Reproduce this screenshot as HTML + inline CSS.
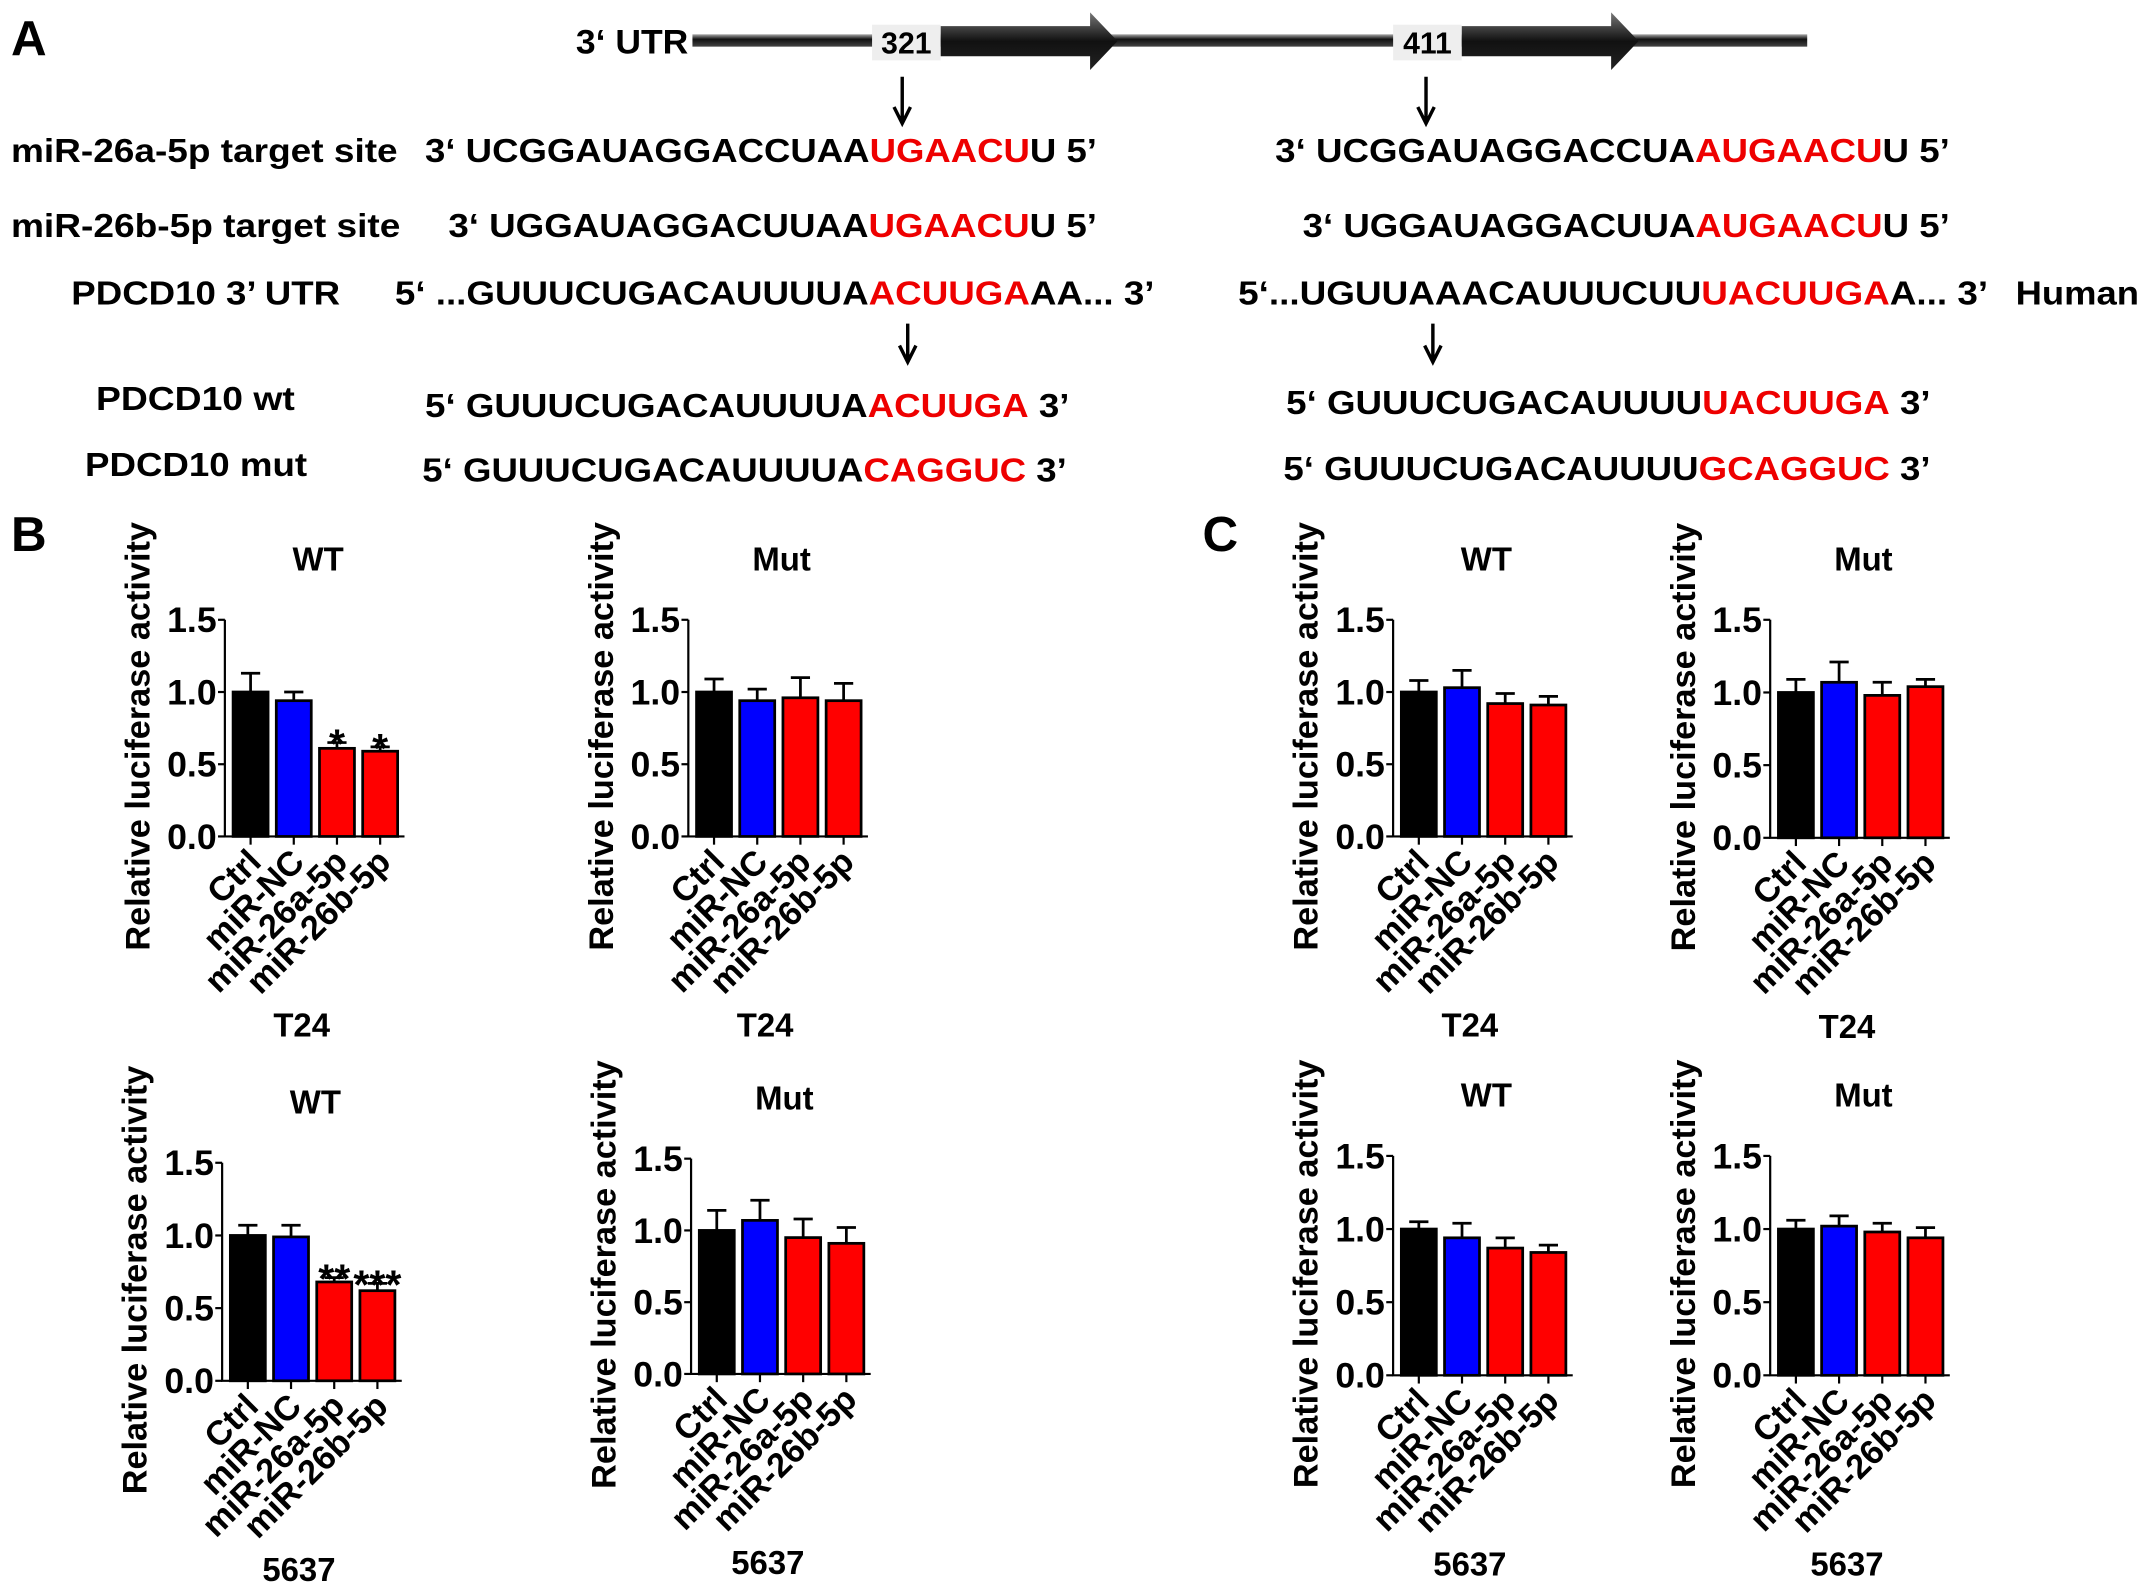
<!DOCTYPE html>
<html><head><meta charset="utf-8"><style>
html,body{margin:0;padding:0;background:#fff;}
svg{display:block;font-family:"Liberation Sans",Arial,sans-serif;font-weight:bold;}
</style></head><body>
<svg id="fig" xmlns="http://www.w3.org/2000/svg" width="2150" height="1595" viewBox="0 0 1568 1163.2">
<defs>
<linearGradient id="lg" x1="0" y1="0" x2="0" y2="1"><stop offset="0" stop-color="#aaa"/><stop offset="0.4" stop-color="#111"/><stop offset="1" stop-color="#444"/></linearGradient>
<linearGradient id="ag" x1="0" y1="0" x2="0" y2="1"><stop offset="0" stop-color="#777"/><stop offset="0.5" stop-color="#111"/><stop offset="1" stop-color="#222"/></linearGradient>
</defs>
<g>
<text x="8" y="40" font-size="36">A</text>
<text x="420" y="39" font-size="25" textLength="82" lengthAdjust="spacingAndGlyphs">3‘ UTR</text>
<rect x="505" y="25" width="813" height="9" fill="url(#lg)"/>
<g>
<path d="M686 19 H795 V9 L815 30 L795 51 V41 H686 Z" fill="url(#ag)"/>
<rect x="636" y="18" width="50" height="26" fill="#eee"/>
<text x="661" y="39" font-size="22" text-anchor="middle">321</text>
</g>
<g>
<path d="M1066 19 H1175 V9 L1195 30 L1175 51 V41 H1066 Z" fill="url(#ag)"/>
<rect x="1016" y="18" width="50" height="26" fill="#eee"/>
<text x="1041" y="39" font-size="22" text-anchor="middle">411</text>
</g>
<g stroke="#000" stroke-width="2.5" fill="none">
<path d="M658 56 V88 M652 78 L658 90 L664 78"/>
<path d="M1040 56 V88 M1034 78 L1040 90 L1046 78"/>
<path d="M662 236 V262 M656 252 L662 264 L668 252"/>
<path d="M1045 236 V262 M1039 252 L1045 264 L1051 252"/>
</g>
<g font-size="24">
<text x="8" y="118" textLength="282" lengthAdjust="spacingAndGlyphs">miR-26a-5p target site</text>
<text x="310" y="118" textLength="490" lengthAdjust="spacingAndGlyphs">3‘ UCGGAUAGGACCUAA<tspan fill="#e00">UGAACU</tspan>U 5’</text>
<text x="930" y="118" textLength="492" lengthAdjust="spacingAndGlyphs">3‘ UCGGAUAGGACCUA<tspan fill="#e00">AUGAACU</tspan>U 5’</text>
<text x="8" y="173" textLength="284" lengthAdjust="spacingAndGlyphs">miR-26b-5p target site</text>
<text x="327" y="173" textLength="473" lengthAdjust="spacingAndGlyphs">3‘ UGGAUAGGACUUAA<tspan fill="#e00">UGAACU</tspan>U 5’</text>
<text x="950" y="173" textLength="472" lengthAdjust="spacingAndGlyphs">3‘ UGGAUAGGACUUA<tspan fill="#e00">AUGAACU</tspan>U 5’</text>
<text x="52" y="222" textLength="196" lengthAdjust="spacingAndGlyphs">PDCD10 3’ UTR</text>
<text x="288" y="222" textLength="554" lengthAdjust="spacingAndGlyphs">5‘ ...GUUUCUGACAUUUUA<tspan fill="#e00">ACUUGA</tspan>AA... 3’</text>
<text x="903" y="222" textLength="547" lengthAdjust="spacingAndGlyphs">5‘...UGUUAAACAUUUCUU<tspan fill="#e00">UACUUGA</tspan>A... 3’</text>
<text x="1470" y="222" textLength="90" lengthAdjust="spacingAndGlyphs">Human</text>
<text x="70" y="299" textLength="145" lengthAdjust="spacingAndGlyphs">PDCD10 wt</text>
<text x="310" y="304" textLength="470" lengthAdjust="spacingAndGlyphs">5‘ GUUUCUGACAUUUUA<tspan fill="#e00">ACUUGA</tspan> 3’</text>
<text x="938" y="302" textLength="470" lengthAdjust="spacingAndGlyphs">5‘ GUUUCUGACAUUUU<tspan fill="#e00">UACUUGA</tspan> 3’</text>
<text x="62" y="347" textLength="162" lengthAdjust="spacingAndGlyphs">PDCD10 mut</text>
<text x="308" y="351" textLength="470" lengthAdjust="spacingAndGlyphs">5‘ GUUUCUGACAUUUUA<tspan fill="#e00">CAGGUC</tspan> 3’</text>
<text x="936" y="350" textLength="472" lengthAdjust="spacingAndGlyphs">5‘ GUUUCUGACAUUUU<tspan fill="#e00">GCAGGUC</tspan> 3’</text>
</g>
</g>
<text x="8" y="402" font-size="36">B</text>
<text x="877" y="402" font-size="36">C</text>
<g id="charts"></g>
</svg>
<script>
const categories = ["Ctrl", "miR-NC", "miR-26a-5p", "miR-26b-5p"];
const barColors = ["#000", "#0000ff", "#ff0000", "#ff0000"];
const yTicks = [0, 0.5, 1.0, 1.5];
const yTickLabels = ["0.0", "0.5", "1.0", "1.5"];
const bTopWtValues = [1.0, 0.94, 0.61, 0.59];
const bTopWtErrors = [0.13, 0.06, 0.04, 0.03];
const bTopWtStars = ["", "", "*", "*"];
const bTopMutValues = [1.0, 0.94, 0.96, 0.94];
const bTopMutErrors = [0.09, 0.08, 0.14, 0.12];
const bBotWtValues = [1.0, 0.99, 0.68, 0.62];
const bBotWtErrors = [0.07, 0.08, 0.03, 0.05];
const bBotWtStars = ["", "", "**", "***"];
const bBotMutValues = [1.0, 1.07, 0.95, 0.91];
const bBotMutErrors = [0.14, 0.14, 0.13, 0.11];
const cTopWtValues = [1.0, 1.03, 0.92, 0.91];
const cTopWtErrors = [0.08, 0.12, 0.07, 0.06];
const cTopMutValues = [1.0, 1.07, 0.98, 1.04];
const cTopMutErrors = [0.09, 0.14, 0.09, 0.05];
const cBotWtValues = [1.0, 0.94, 0.87, 0.84];
const cBotWtErrors = [0.05, 0.10, 0.07, 0.05];
const cBotMutValues = [1.0, 1.02, 0.98, 0.94];
const cBotMutErrors = [0.06, 0.07, 0.06, 0.07];
const noStars = ["", "", "", ""];

const NS = "http://www.w3.org/2000/svg";
const root = document.getElementById("charts");
function mk(tag, attrs, parent, txt) {
  const e = document.createElementNS(NS, tag);
  for (const k in attrs) e.setAttribute(k, attrs[k]);
  if (txt !== undefined) e.textContent = txt;
  parent.appendChild(e);
  return e;
}
function chart(name, ax, y0, y15, title, cell, vals, errs, stars) {
  const g = mk("g", {}, root);
  
  
  const yS = v => y0 - (v / 1.5) * (y0 - y15);
  const pitch = 31.5, bw = 27.5, x0 = ax + 5;
  const xS = i => x0 + i * pitch;
  const xEnd = x0 + categories.length * pitch;
  const axis = mk("path", {d: `M${ax} ${y15} V${y0} H${xEnd}`, stroke: "#000", "stroke-width": 1.6, fill: "none"}, g);
  
  
  yTicks.forEach((t, i) => {
    mk("line", {x1: ax - 5, x2: ax, y1: yS(t), y2: yS(t), stroke: "#000", "stroke-width": 1.6}, g);
    const tl = mk("text", {x: ax - 6, y: yS(t) + 9, "font-size": 26, "text-anchor": "end"}, g, yTickLabels[i]);
    
    
  });
  const yt = mk("text", {x: 0, y: 0, "font-size": 25, "text-anchor": "middle", transform: `translate(${ax - 55},${(y0 + y15) / 2 + 6}) rotate(-90)`}, g, "Relative luciferase activity");
  
  
  const tt = mk("text", {x: (x0 + xEnd) / 2, y: y15 - 36, "font-size": 24, "text-anchor": "middle"}, g, title);
  
  
  const ct = mk("text", {x: (x0 + xEnd) / 2 - 12, y: y0 + 146, "font-size": 24, "text-anchor": "middle"}, g, cell);
  
  
  vals.forEach((v, i) => {
    const x = xS(i), cx = x + bw / 2;
    const top = yS(v), et = yS(v + errs[i]);
    const eb = mk("path", {d: `M${cx} ${top} V${et} M${cx - 7} ${et} H${cx + 7}`, stroke: "#000", "stroke-width": 2, fill: "none"}, g);
    
    
    const b = mk("rect", {x: x + 1, y: top, width: bw - 2, height: y0 - top, fill: barColors[i], stroke: "#000", "stroke-width": 2}, g);
    
    
    mk("line", {x1: cx, x2: cx, y1: y0, y2: y0 + 6, stroke: "#000", "stroke-width": 1.6}, g);
    const cl = mk("text", {x: 0, y: 0, "font-size": 25, "text-anchor": "end", transform: `translate(${cx + 9},${y0 + 20}) rotate(-45)`}, g, categories[i]);
    
    
    if (stars[i]) {
      const s = mk("text", {x: cx, y: et + 11, "font-size": 30, "text-anchor": "middle"}, g, stars[i]);
      
      
    }
  });
}
chart("chart-b-t24-wt", 164, 610, 452, "WT", "T24", bTopWtValues, bTopWtErrors, bTopWtStars);
chart("chart-b-t24-mut", 502, 610, 452, "Mut", "T24", bTopMutValues, bTopMutErrors, noStars);
chart("chart-b-5637-wt", 162, 1007, 848, "WT", "5637", bBotWtValues, bBotWtErrors, bBotWtStars);
chart("chart-b-5637-mut", 504, 1002, 845, "Mut", "5637", bBotMutValues, bBotMutErrors, noStars);
chart("chart-c-t24-wt", 1016, 610, 452, "WT", "T24", cTopWtValues, cTopWtErrors, noStars);
chart("chart-c-t24-mut", 1291, 611, 452, "Mut", "T24", cTopMutValues, cTopMutErrors, noStars);
chart("chart-c-5637-wt", 1016, 1003, 843, "WT", "5637", cBotWtValues, cBotWtErrors, noStars);
chart("chart-c-5637-mut", 1291, 1003, 843, "Mut", "5637", cBotMutValues, cBotMutErrors, noStars);
</script>
</body></html>
